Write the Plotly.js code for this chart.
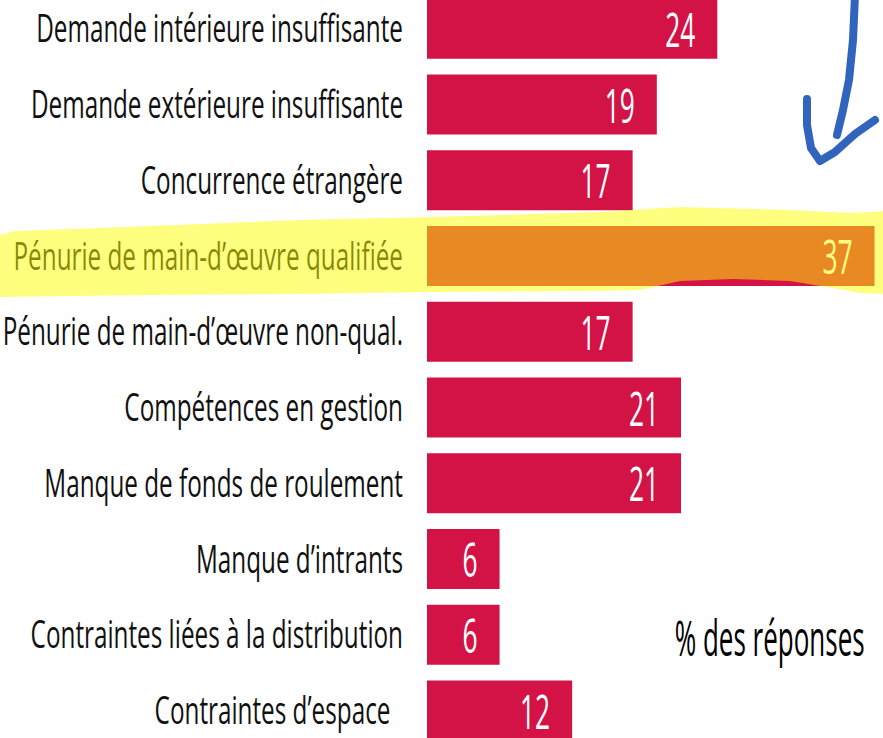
<!DOCTYPE html>
<html><head><meta charset="utf-8">
<script src="https://cdn.plot.ly/plotly-3.0.1.min.js"></script>
<style>html,body{margin:0;padding:0;background:#fff;overflow:hidden}#chart{width:883px;height:738px}</style>
</head><body><div id="chart"></div>
<script>
// ---- data ----
const categories = [
  'Demande intérieure insuffisante',
  'Demande extérieure insuffisante',
  'Concurrence étrangère',
  'Pénurie de main-d’œuvre qualifiée',
  'Pénurie de main-d’œuvre non-qual.',
  'Compétences en gestion',
  'Manque de fonds de roulement',
  'Manque d’intrants',
  'Contraintes liées à la distribution',
  'Contraintes d’espace\u00a0\u00a0'
];
const values = [24, 19, 17, 37, 17, 21, 21, 6, 6, 12];
const unitLabel = '% des réponses';

// ---- layout helpers (pixel -> paper) ----
const W = 883, H = 738, L = 427;
const px = x => (x - L) / (W - L);
const py = y => 1 - y / H;
function pathFrom(pts, close) {
  return pts.map((p, i) => (i ? 'L' : 'M') + px(p[0]).toFixed(4) + ',' + py(p[1]).toFixed(4)).join(' ') + (close ? ' Z' : '');
}
const highlightPts = [
  [-5,240],[0,235],[15,231],[100,228],[200,224],[300,220],[430,217],[600,212],[680,207],[790,210],[850,213],[890,211],
  [890,294],[860,293],[845,290],[790,281],[733,279],[680,281],[640,290],[600,291],[430,292],[300,294],[150,295],[0,297],[-5,297]
];
const shaftPts = [[855,-5],[853,40],[849,80],[843,110],[837,135]];
const headPts = [[807,99],[807,125],[811,148],[820,161],[835,152],[855,134],[875,120]];

const red = '#D31246';
const font = 'Open Sans, Noto Sans, sans-serif';

const trace = {
  type: 'bar', orientation: 'h',
  y: categories, x: values,
  marker: {color: red, line: {width: 0}},
  text: values.map(String), texttemplate: '%{text}',
  textposition: 'inside', insidetextanchor: 'end', constraintext: 'none', textangle: 0,
  textfont: {family: font, size: 47, color: '#ffffff'},
  hoverinfo: 'none', cliponaxis: false
};

const layout = {
  width: W, height: H,
  margin: {l: L, r: 0, t: 0, b: 0, pad: 0},
  paper_bgcolor: '#ffffff', plot_bgcolor: '#ffffff',
  showlegend: false, bargap: 0.21,
  xaxis: {range: [0, 37.7], visible: false, fixedrange: true},
  yaxis: {
    type: 'category', categoryorder: 'array', categoryarray: categories,
    range: [9.363, -0.38], autorange: false,
    showgrid: false, zeroline: false, showline: false, ticks: '',
    ticklabelstandoff: 23,
    tickfont: {family: font, size: 39, color: '#111111'},
    fixedrange: true
  },
  shapes: [
    {type: 'path', xref: 'paper', yref: 'paper', layer: 'above', path: pathFrom(highlightPts, true),
     fillcolor: '#ffff00', opacity: 0.5, line: {width: 0}},
    {type: 'path', xref: 'paper', yref: 'paper', layer: 'above', path: pathFrom(shaftPts, false),
     fillcolor: 'rgba(0,0,0,0)', line: {color: '#3165BD', width: 8}},
    {type: 'path', xref: 'paper', yref: 'paper', layer: 'above', path: pathFrom(headPts, false),
     fillcolor: 'rgba(0,0,0,0)', line: {color: '#3165BD', width: 8}}
  ],
  annotations: [
    {text: unitLabel, xref: 'paper', yref: 'paper', x: px(769), y: py(637), xanchor: 'center', yanchor: 'middle',
     showarrow: false, font: {family: font, size: 50, color: '#000000'}}
  ]
};

function squeeze(el, s, anchor, shift) {
  const b = el.getBBox();
  const a = anchor === 'right' ? b.x + b.width : b.x + b.width / 2;
  const t = el.getAttribute('transform') || '';
  el.setAttribute('transform', t + ` translate(${a + (shift || 0)},0) scale(${s},1) translate(${-a},0)`);
}

Plotly.newPlot('chart', [trace], layout, {staticPlot: true, displayModeBar: false}).then(() => {
  const ticks = Array.from(document.querySelectorAll('.ytick text'));
  if (ticks.length) {
    const first = ticks.find(t => t.textContent.startsWith('Demande int')) || ticks[0];
    const sL = 367 / first.getBBox().width;
    ticks.forEach(t => squeeze(t, sL, 'right', 0));
  }
  document.querySelectorAll('text.bartext').forEach(t => squeeze(t, 0.56, 'right', -19));
  document.querySelectorAll('.annotation-text').forEach(t => {
    const sA = 190 / t.getBBox().width;
    squeeze(t, sA, 'center', 0);
  });
  document.querySelectorAll('.shapelayer path').forEach(p => {
    p.style.strokeLinecap = 'round'; p.style.strokeLinejoin = 'round';
  });
});
</script>
</body></html>
